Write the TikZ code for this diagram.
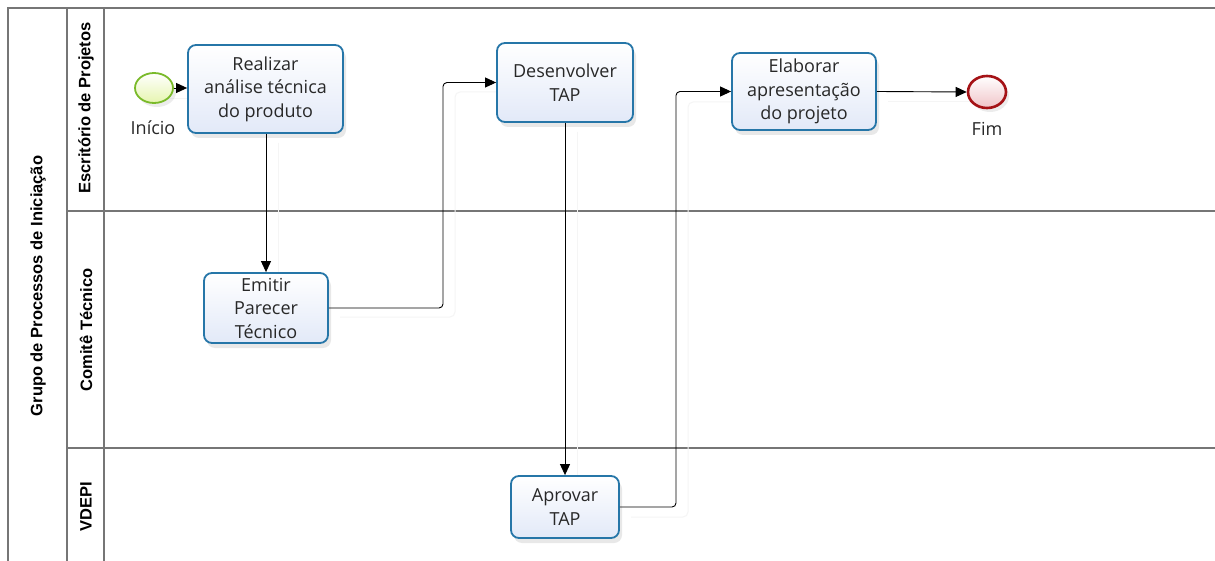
\documentclass[tikz,border=0pt]{standalone}
\usepackage{fontspec}
\setmainfont{Open Sans}
\newfontfamily\lanefont{Liberation Sans}
\usetikzlibrary{arrows.meta,shadows,shapes.geometric}

\definecolor{poolline}{RGB}{118,118,118}
\definecolor{taskline}{RGB}{38,118,168}
\definecolor{taskfill}{RGB}{226,233,248}
\definecolor{startline}{RGB}{122,186,42}
\definecolor{startfill}{RGB}{230,245,175}
\definecolor{endline}{RGB}{165,18,22}
\definecolor{endfill}{RGB}{240,196,200}
\definecolor{txt}{RGB}{40,40,40}
\definecolor{flowshadow}{RGB}{245,245,245}

\tikzset{
  poolrule/.style={draw=poolline, line width=1.3pt},
  lanelabel/.style={rotate=90, font=\lanefont\bfseries\fontsize{16.5}{18}\selectfont, text=black},
  task/.style={draw=taskline, line width=1.8pt, rounded corners=8pt,
    top color=white, bottom color=taskfill, align=center, text=txt,
    font=\fontsize{18}{23.5}\selectfont, inner sep=0pt,
    drop shadow={opacity=0.18, shadow xshift=3pt, shadow yshift=-5pt}},
  startev/.style={ellipse, draw=startline, line width=1.8pt,
    top color=white, bottom color=startfill, minimum width=38pt, minimum height=30pt,
    drop shadow={opacity=0.15, shadow xshift=3pt, shadow yshift=-4pt}},
  endev/.style={ellipse, draw=endline, line width=2.6pt,
    top color=white, bottom color=endfill, minimum width=38pt, minimum height=32pt,
    drop shadow={opacity=0.15, shadow xshift=3pt, shadow yshift=-4pt}},
  evlabel/.style={text=txt, font=\fontsize{18}{20}\selectfont},
  flow/.style={draw=black, line width=0.9pt, rounded corners=4pt,
    -{Triangle[length=11pt,width=10pt]}},
  flowshade/.style={draw=flowshadow, line width=1pt, rounded corners=5pt,
    shift={(12,10)}}
}

\begin{document}
\begin{tikzpicture}[x=1pt,y=-1pt]
\useasboundingbox (0,0) rectangle (1215,561);
\fill[white] (0,0) rectangle (1215,561);

% pool and lanes
\draw[poolrule] (1215,8) -- (8,8) -- (8,561);
\draw[poolrule] (67,8) -- (67,561);
\draw[poolrule] (104,8) -- (104,561);
\draw[poolrule] (67,211) -- (1215,211);
\draw[poolrule] (67,448) -- (1215,448);

\node[lanelabel] (pool) at (38,286) {Grupo de Processos de Iniciação};
\node[lanelabel] (lane1) at (86,108) {Escritório de Projetos};
\node[lanelabel] (lane2) at (86,330) {Comitê Técnico};
\node[lanelabel] (lane3) at (86,507) {VDEPI};

% bend points of the routed flows
\coordinate (c1) at (443,200);
\coordinate (c2) at (676,300);

% faint shadows under the flows
\draw[flowshade] (154,89) -- (265,89);
\draw[flowshade] (266,133) -- (266,273);
\draw[flowshade] (328,307) -| (443,200) |- (497,82);
\draw[flowshade] (565,122) -- (565,476);
\draw[flowshade] (619,507) -| (676,300) |- (732,92);
\draw[flowshade] (876,92) -- (967,92);

% events
\node[startev] (start) at (154,88) {};
\node[evlabel] (startlbl) at (153,128) {Início};
\node[endev] (fim) at (987,92) {};
\node[evlabel] (fimlbl) at (987,129) {Fim};

% tasks
\node[task, minimum width=155pt, minimum height=88pt] (real) at (265.5,89)
  {Realizar\\análise técnica\\do produto};
\node[task, minimum width=124pt, minimum height=70pt] (emit) at (266,308)
  {Emitir\\Parecer\\Técnico};
\node[task, minimum width=136pt, minimum height=79pt] (desen) at (565,82.5)
  {Desenvolver\\TAP};
\node[task, minimum width=108pt, minimum height=62pt] (aprov) at (565,507)
  {Aprovar\\TAP};
\node[task, minimum width=144pt, minimum height=77pt] (elab) at (804,91.5)
  {Elaborar\\apresentação\\do projeto};

% sequence flows
\draw[flow] (start.east) -- (real.west |- start.east);
\draw[flow] (real.south -| emit.north) -- (emit.north);
\draw[flow] (emit.east) -| (c1) |- (desen.west);
\draw[flow] (desen.south) -- (aprov.north);
\draw[flow] (aprov.east) -| (c2) |- (elab.west);
\draw[flow] (elab.east) -- (fim.west);
\end{tikzpicture}
\end{document}
